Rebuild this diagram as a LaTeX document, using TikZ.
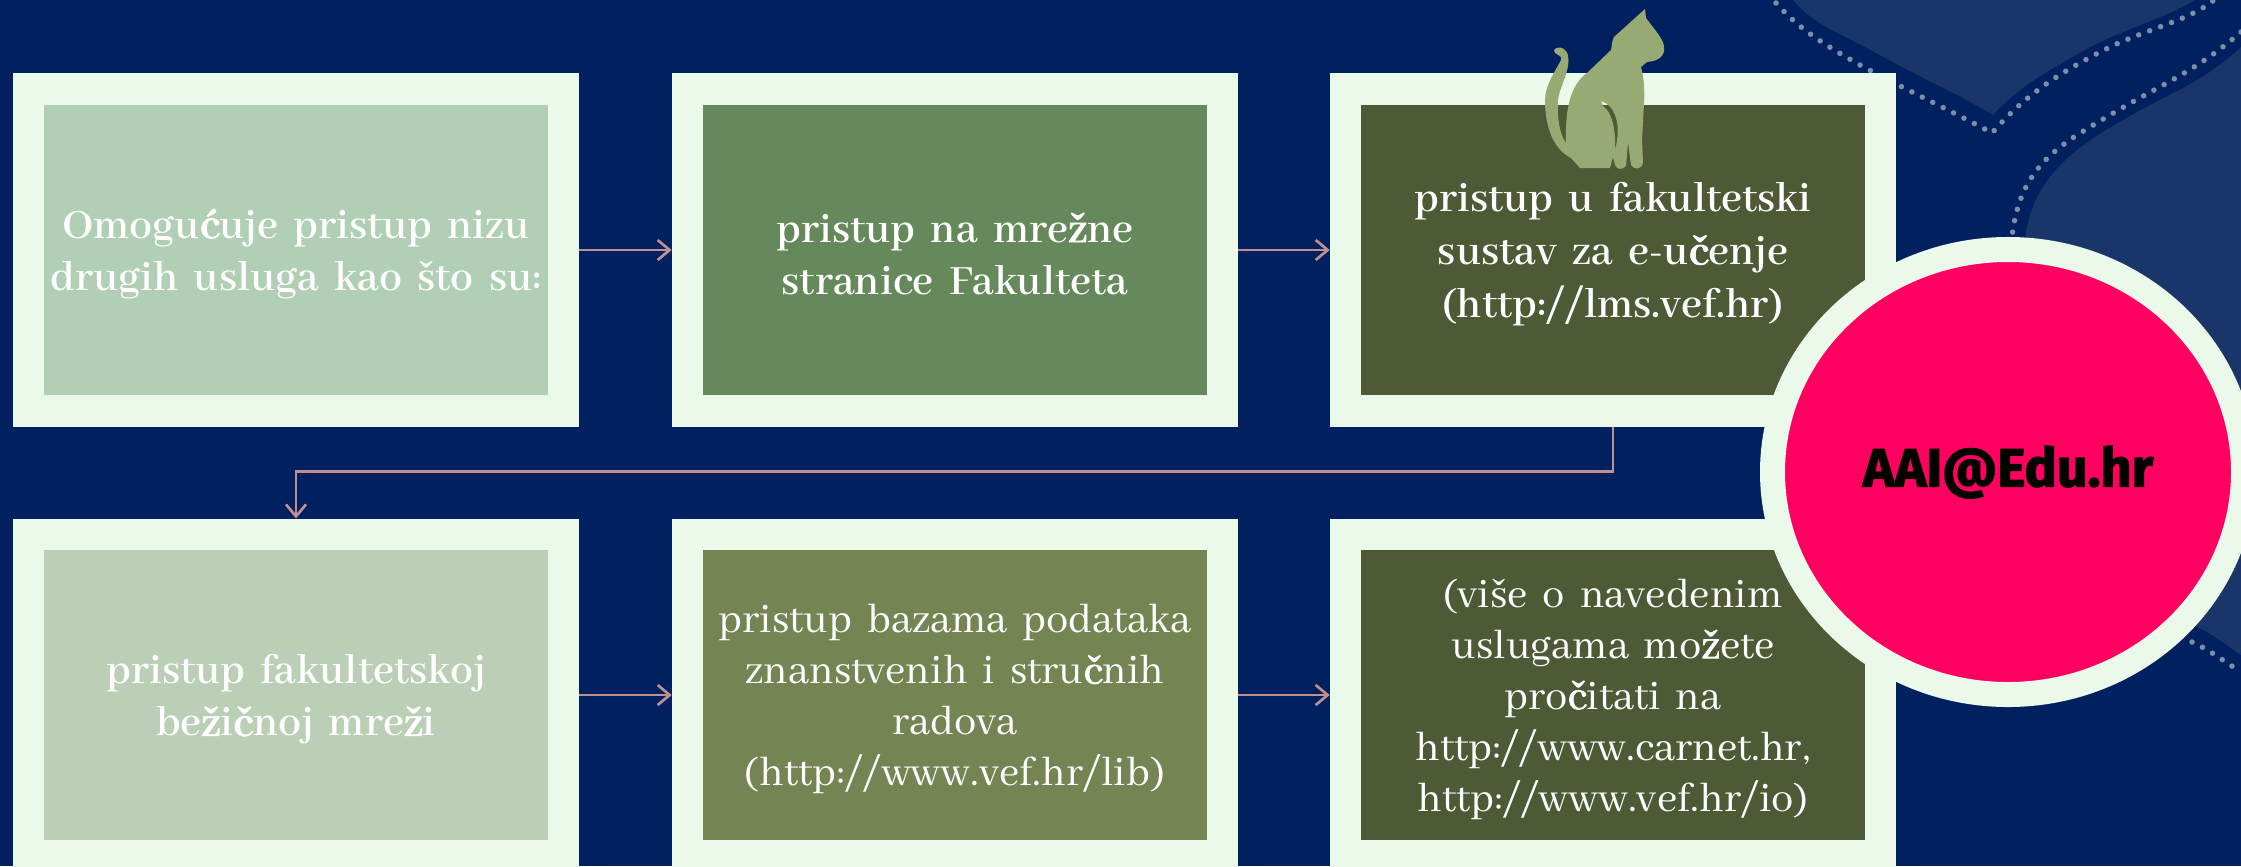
\documentclass[tikz,border=0pt]{standalone}
\usepackage{fontspec}
\usetikzlibrary{arrows.meta,shapes.geometric}
\setmainfont[WordSpace=0.7]{Abhaya Libre}
\newfontfamily\heavyfont[FakeBold=1.6]{Abhaya Libre}
\newfontfamily\logofont[FakeBold=2]{Fira Sans Bold}
\newcommand{\hv}[1]{{\heavyfont #1}}
\definecolor{navy}{HTML}{00205F}
\definecolor{wave}{HTML}{1A3569}
\definecolor{dots}{HTML}{7B8FA8}
\definecolor{frame}{HTML}{EAF9E9}
\definecolor{sage}{HTML}{B0CFB5}
\definecolor{moss}{HTML}{66895B}
\definecolor{forest}{HTML}{4E5A36}
\definecolor{pale}{HTML}{BACFB6}
\definecolor{olive}{HTML}{748452}
\definecolor{cat}{HTML}{98AA74}
\definecolor{rose}{HTML}{FF0060}
\definecolor{link}{HTML}{C09090}
\tikzset{
    infobox/.style={draw=frame, line width=0.945cm, minimum width=16.05cm, minimum height=9.645cm, text width=15.4cm, align=center, text=white, inner sep=0pt, execute at begin node={\rule{0pt}{0.82em}}},
    strongtext/.style={font=\fontsize{39}{45}\selectfont\bfseries},
    thintext/.style={font=\fontsize{38}{43.5}\selectfont},
    arrowline/.style={draw=link, line width=0.08cm, -{Straight Barb[length=0.36cm,width=0.6cm]}},
    dotline/.style={draw=dots, line width=0.165cm, line cap=round, dash pattern=on 0pt off 0.35cm}
}
\begin{document}
\begin{tikzpicture}[x=0.03cm, y=-0.03cm]
    \useasboundingbox (0, 0) rectangle (2241, 866);
    \fill[navy] (0, 0) rectangle (2241, 866);
    \fill[wave] (1793, 0) .. controls (1815, 25) and (1830, 28) .. (1880, 55) .. controls (1925, 80) and (1960, 95) .. (1993, 115) .. controls (2020, 85) and (2050, 70) .. (2090, 47) .. controls (2130, 27) and (2160, 20) .. (2195, 0) -- cycle;
    \fill[wave] (2241, 47) .. controls (2200, 85) and (2170, 92) .. (2120, 122) .. controls (2060, 155) and (2030, 190) .. (2025, 240) -- (2000, 480) -- (2197, 627) .. controls (2215, 635) and (2230, 648) .. (2241, 655) -- cycle;
    \draw[dotline] (1776, 3) .. controls (1800, 30) and (1825, 45) .. (1860, 65) .. controls (1910, 92) and (1950, 110) .. (1992, 133) .. controls (2025, 95) and (2060, 72) .. (2110, 47) .. controls (2150, 28) and (2190, 20) .. (2214, 0);
    \draw[dotline] (2241, 32) .. controls (2195, 72) and (2160, 85) .. (2110, 115) .. controls (2060, 145) and (2020, 165) .. (2012, 237);
    \draw[dotline] (2192, 642) .. controls (2210, 650) and (2225, 662) .. (2241, 672);
    \node[infobox, fill=sage, strongtext] (access) at (296, 250) {Omogu\hv{ć}uje pristup nizu drugih usluga kao što su:};
    \node[infobox, fill=moss, strongtext] (web) at (955, 250) {pristup na mre\hv{ž}ne\\stranice Fakulteta};
    \node[infobox, fill=forest, strongtext] (lms) at (1613, 250) {pristup u fakultetski\\sustav za e-u\hv{č}enje\\(http://lms.vef.hr)};
    \node[infobox, fill=pale, strongtext] (wifi) at (296, 695) {pristup fakultetskoj\\be\hv{ž}i\hv{č}noj mre\hv{ž}i};
    \node[infobox, fill=olive, thintext] (lib) at (955, 695) {pristup bazama podataka\\znanstvenih i stru\hv{č}nih\\radova\\(http://www.vef.hr/lib)};
    \node[infobox, fill=forest, thintext] (more) at (1613, 695) {(više o navedenim\\uslugama mo\hv{ž}ete\\pro\hv{č}itati na\\http://www.carnet.hr,\\http://www.vef.hr/io)};
    \draw[arrowline] (access) -- (web);
    \draw[arrowline] (web) -- (lms);
    \draw[arrowline] (wifi) -- (lib);
    \draw[arrowline] (lib) -- (more);
    \draw[arrowline] (lms.south) -- ++(0, 45) -| (wifi.north);
    \fill[cat, even odd rule] (1645, 9) -- (1646, 18) .. controls (1655, 30) and (1664, 40) .. (1664, 47) .. controls (1665, 55) and (1660, 61) .. (1647, 62) -- (1641, 67) .. controls (1643, 75) and (1645, 85) .. (1644, 103) -- (1642, 140) -- (1643, 163) .. controls (1641, 170) and (1634, 170) .. (1631, 165) -- (1628, 142) -- (1626, 166) .. controls (1622, 170) and (1617, 170) .. (1615, 165) -- (1613, 157) -- (1610, 168) -- (1580, 168) -- (1571, 158) .. controls (1555, 150) and (1545, 130) .. (1545, 100) .. controls (1545, 85) and (1556, 70) .. (1561, 60) .. controls (1564, 55) and (1553, 55) .. (1554, 50) .. controls (1556, 46) and (1565, 46) .. (1568, 55) .. controls (1571, 70) and (1560, 85) .. (1558, 100) .. controls (1557, 120) and (1560, 135) .. (1566, 143) .. controls (1565, 110) and (1570, 85) .. (1587, 73) -- (1611, 50) .. controls (1612, 45) and (1612, 40) .. (1614, 37) -- cycle (1601, 101) .. controls (1615, 105) and (1622, 125) .. (1615, 150) .. controls (1616, 130) and (1612, 112) .. (1603, 106) -- cycle;
    \node[ellipse, draw=frame, fill=rose, line width=0.75cm, minimum width=14.13cm, minimum height=13.35cm, inner sep=0pt, font=\logofont\fontsize{46}{50}\selectfont] (aai) at (2008, 472) {AAI@Edu.hr};
\end{tikzpicture}
\end{document}
